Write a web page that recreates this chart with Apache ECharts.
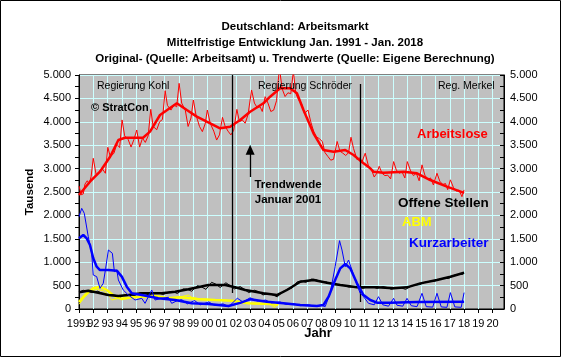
<!DOCTYPE html>
<html><head><meta charset="utf-8">
<script src="https://cdn.jsdelivr.net/npm/echarts@6/dist/echarts.min.js"></script>
<style>html,body{margin:0;padding:0;background:#fff}#c{width:563px;height:359px}</style>
</head><body><div id="c"></div>
<script>
// ---- data: [year, thousands] ----
const arbeitsloseOriginal = [
[1991.0,2630],[1991.15,2440],[1991.3,2460],[1991.42,2670],[1991.58,2740],[1991.72,2670],[1991.85,2830],
[1992.0,3220],[1992.2,2870],[1992.45,2940],[1992.6,3010],[1992.85,2900],
[1993.02,3455],[1993.2,3250],[1993.45,3330],[1993.65,3520],[1993.85,3450],
[1994.02,4040],[1994.2,3700],[1994.45,3620],[1994.65,3460],[1994.85,3620],
[1995.05,3825],[1995.25,3460],[1995.45,3650],[1995.65,3560],[1995.85,3700],
[1996.03,4266],[1996.2,3900],[1996.45,3830],[1996.65,4000],[1996.85,4050],
[1997.04,4665],[1997.2,4350],[1997.45,4250],[1997.65,4360],[1997.85,4320],
[1998.02,4822],[1998.2,4400],[1998.45,4250],[1998.65,3900],[1998.85,4080],
[1999.02,4466],[1999.2,4150],[1999.45,3900],[1999.65,3790],[1999.85,3960],
[2000.0,4252],[2000.2,3970],[2000.45,3800],[2000.65,3610],[2000.85,3720],
[2001.06,4095],[2001.25,3900],[2001.45,3800],[2001.65,3720],[2001.85,3820],
[2002.07,4266],[2002.25,4000],[2002.45,4040],[2002.65,3970],[2002.85,4150],
[2003.1,4680],[2003.3,4400],[2003.5,4300],[2003.7,4320],[2003.85,4220],
[2004.05,4537],[2004.25,4400],[2004.45,4220],[2004.65,4250],[2004.85,4450],
[2005.05,5150],[2005.25,4700],[2005.45,4540],[2005.65,4620],[2005.85,4600],
[2006.03,5080],[2006.2,4610],[2006.4,4470],[2006.6,4390],[2006.8,4180],
[2007.06,4250],[2007.25,4000],[2007.45,3800],[2007.65,3680],[2007.85,3640],
[2008.06,3580],[2008.25,3340],[2008.45,3260],[2008.65,3180],[2008.85,3200],
[2009.1,3580],[2009.3,3370],[2009.5,3330],[2009.7,3280],[2009.9,3340],
[2010.07,3670],[2010.25,3430],[2010.5,3190],[2010.7,3230],[2010.85,3150],
[2011.07,3330],[2011.3,3050],[2011.5,2980],[2011.7,2820],[2011.88,2900],
[2012.05,3050],[2012.25,2900],[2012.45,2850],[2012.65,2860],[2012.85,2780],
[2013.06,3150],[2013.25,2970],[2013.45,2900],[2013.65,2930],[2013.85,2800],
[2014.02,3150],[2014.25,2950],[2014.45,2850],[2014.65,2900],[2014.85,2740],
[2015.05,3080],[2015.25,2860],[2015.45,2770],[2015.65,2800],[2015.85,2650],
[2016.1,2900],[2016.3,2730],[2016.5,2660],[2016.7,2680],[2016.85,2550],
[2017.04,2760],[2017.25,2600],[2017.45,2520],[2017.65,2540],[2017.85,2400],
[2018.0,2545]];
const arbeitsloseTrend = [[1991.0,2436],[1991.77,2720],[1992.47,2934],[1993.18,3254],[1993.76,3611],[1994.23,3660],[1995.49,3660],[1995.98,3790],[1996.68,4145],[1997.86,4395],[1998.56,4252],[1999.26,4110],[1999.96,4002],[2000.89,3860],[2001.6,3895],[2002.3,4038],[2003.0,4216],[2003.93,4395],[2004.4,4537],[2005.1,4716],[2005.8,4716],[2006.28,4609],[2006.74,4252],[2007.44,3754],[2008.14,3397],[2008.85,3361],[2009.67,3397],[2010.25,3290],[2010.72,3170],[2011.42,3006],[2011.65,2934],[2012.35,2913],[2013.76,2934],[2014.7,2900],[2015.63,2756],[2016.8,2614],[2018.0,2480]];

const offeneOriginal = [[1991.0,360],[1991.3,400],[1991.6,380],[1991.9,350],[1992.3,380],[1992.6,340],[1992.9,300],[1993.3,310],[1993.6,290],[1993.9,260],[1994.3,310],[1994.6,300],[1994.9,290],[1995.3,350],[1995.6,330],[1995.9,300],[1996.3,350],[1996.6,340],[1996.9,310],[1997.3,360],[1997.6,370],[1997.9,330],[1998.3,430],[1998.6,420],[1998.9,380],[1999.3,500],[1999.6,470],[1999.9,420],[2000.3,570],[2000.6,530],[2000.9,460],[2001.3,560],[2001.6,500],[2001.9,430],[2002.3,480],[2002.6,420],[2002.9,350],[2003.3,400],[2003.6,370],[2003.9,300],[2004.3,330],[2004.6,300],[2004.9,260],[2005.3,370],[2005.6,420],[2005.9,440],[2006.3,580],[2006.6,600],[2006.9,570],[2007.3,640],[2007.6,630],[2007.9,590],[2008.3,580],[2008.6,560],[2008.9,520],[2009.3,510],[2009.6,500],[2009.9,470],[2010.3,470],[2010.6,470],[2010.9,440],[2011.3,480],[2011.6,470],[2011.9,440],[2012.3,480],[2012.6,460],[2012.9,420],[2013.3,460],[2013.6,450],[2013.9,420],[2014.3,490],[2014.6,510],[2014.9,520],[2015.3,580],[2015.6,590],[2015.9,590],[2016.3,640],[2016.6,660],[2016.9,650],[2017.3,720],[2017.6,740],[2017.9,740],[2018.0,770]];
const offeneTrend = [[1991.0,357],[1991.65,391],[1992.35,348],[1993.06,299],[1993.76,278],[1994.46,299],[1995.4,335],[1996.8,335],[1997.74,370],[1998.67,421],[2000.07,513],[2001.25,513],[2001.95,463],[2002.65,406],[2003.35,370],[2003.93,335],[2004.87,299],[2005.58,406],[2006.51,583],[2007.44,620],[2008.38,562],[2009.32,513],[2010.49,463],[2011.89,463],[2013.06,442],[2013.99,463],[2014.93,548],[2016.1,620],[2017.04,690],[2018.0,776]];

const abmOriginal = [[1991.0,100],[1991.4,250],[1991.77,370],[1992.24,420],[1992.7,390],[1993.06,300],[1993.3,195],[1993.6,210],[1994.0,265],[1994.3,220],[1994.7,250],[1995.4,265],[1995.8,250],[1996.3,300],[1996.8,250],[1997.3,240],[1997.8,255],[1998.2,265],[1998.67,300],[1998.9,250],[1999.5,215],[2000.0,210],[2000.5,190],[2001.0,195],[2001.7,175],[2002.4,156],[2002.9,120],[2003.4,110],[2003.9,105],[2004.4,120],[2004.6,50],[2004.75,36],[2004.9,110],[2005.0,90]];
const abmTrend = [[1991.0,150],[1991.42,299],[1992.0,442],[1992.47,477],[1992.94,406],[1993.53,263],[1994.0,214],[1994.7,250],[1995.4,263],[1996.33,278],[1997.27,228],[1998.2,250],[1999.37,207],[2000.54,192],[2001.72,178],[2002.88,121],[2004.4,107],[2004.96,90]];

const kurzOriginal = [[1991.0,1972],[1991.19,2151],[1991.37,2045],[1991.65,1545],[1991.89,1190],[1992.0,726],[1992.24,691],[1992.47,442],[1992.7,548],[1992.87,869],[1993.06,1261],[1993.18,1297],[1993.34,1190],[1993.48,797],[1993.65,833],[1993.76,620],[1994.1,406],[1994.46,299],[1994.93,192],[1995.4,228],[1995.63,121],[1996.1,406],[1996.33,192],[1996.8,230],[1997.27,250],[1997.5,121],[1997.9,180],[1998.2,200],[1998.6,110],[1999.1,180],[1999.5,90],[2000.1,150],[2000.5,80],[2001.1,110],[2001.5,50],[2002.1,230],[2002.5,150],[2003.0,240],[2003.5,170],[2004.1,190],[2004.5,130],[2005.1,150],[2005.5,100],[2006.1,110],[2006.5,70],[2007.1,90],[2007.5,55],[2008.0,80],[2008.26,50],[2008.61,335],[2008.96,904],[2009.27,1460],[2009.44,1261],[2009.67,904],[2009.9,1047],[2010.02,1011],[2010.25,726],[2010.49,513],[2010.72,335],[2010.95,263],[2011.3,121],[2011.7,90],[2012.0,263],[2012.3,90],[2012.7,60],[2013.06,228],[2013.3,80],[2013.7,60],[2014.0,228],[2014.3,70],[2014.7,50],[2015.05,335],[2015.35,50],[2015.8,40],[2016.1,335],[2016.4,45],[2016.8,36],[2017.04,350],[2017.35,45],[2017.8,36],[2018.0,350]];
const kurzTrend = [[1991.0,1510],[1991.3,1581],[1991.54,1510],[1991.77,1368],[1992.0,1083],[1992.24,904],[1992.47,833],[1993.06,833],[1993.65,819],[1994.0,691],[1994.35,477],[1994.7,335],[1995.4,299],[1996.56,228],[1997.74,192],[1998.91,121],[2000.07,107],[2001.48,64],[2002.3,130],[2003.0,207],[2004.17,156],[2005.34,121],[2006.51,85],[2007.68,64],[2008.14,85],[2008.5,263],[2008.96,620],[2009.32,869],[2009.67,962],[2010.02,869],[2010.49,548],[2010.95,299],[2011.42,192],[2011.89,135],[2012.82,135],[2014.7,150],[2018.0,156]];

const yearMin = 1991, yearMax = 2020.8;
const valueMin = 0, valueMax = 5000, valueStep = 500;

// ---- chart ----
const FONT = '"Liberation Sans", Arial, sans-serif';
const GRID = '#ccffff';
const chart = echarts.init(document.getElementById('c'), null, {renderer: 'canvas'});
const fmtY = v => v >= 1000 ? Math.floor(v / 1000) + '.' + String(v % 1000).padStart(3, '0') : String(v);
const isInt = v => Math.abs(v - Math.round(v)) < 1e-6;
// main axis: two-digit years (first year shown by the overlay axis)
const fmtX = v => (!isInt(v) || Math.round(v) === yearMin) ? '' : String(Math.round(v)).slice(2);
const fmtXFirst = v => (isInt(v) && Math.round(v) === yearMin) ? String(yearMin) : '';
function line(data, color, width, z) {
  return {type: 'line', data, showSymbol: false, symbol: 'none', silent: true, z,
    lineStyle: {color, width}, itemStyle: {color}, clip: true};
}
const txt = (text, x, y, size, weight, color, align, extra) => Object.assign({
  type: 'text', x, y, silent: true, z: 100,
  style: {text, fontFamily: FONT, fontSize: size, fontWeight: weight, fill: color,
    align: align, textAlign: align, verticalAlign: 'middle', textVerticalAlign: 'middle'}
}, extra || {});

const series = [
  line(arbeitsloseOriginal, '#ff0000', 1, 2),
  line(arbeitsloseTrend, '#ff0000', 2.5, 3),
  line(abmOriginal, '#ffff00', 1, 4),
  line(abmTrend, '#ffff00', 2.5, 5),
  line(offeneOriginal, '#000000', 1, 6),
  line(offeneTrend, '#000000', 2.5, 7),
  line(kurzOriginal, '#0000ff', 1, 8),
  line(kurzTrend, '#0000ff', 2.5, 9)
];
series[1].markLine = {
  silent: true, symbol: ['none', 'none'], label: {show: false}, animation: false,
  lineStyle: {color: '#000', width: 1.3, type: 'solid'},
  data: [
    [{coord: [2001.72, 5000]}, {coord: [2001.72, 342]}],
    [{coord: [2010.72, 4808]}, {coord: [2010.72, 150]}]
  ]
};
series[5].markLine = {
  silent: true, symbol: ['none', 'triangle'], symbolSize: [9, 10], label: {show: false}, animation: false,
  lineStyle: {color: '#000', width: 1.3, type: 'solid'}, itemStyle: {color: '#000'},
  data: [[{coord: [2003.0, 2820]}, {coord: [2003.0, 3405]}]]
};

const xLabelBase = {color: '#000', fontFamily: FONT, fontSize: 11, margin: 9, hideOverlap: false};
chart.setOption({
  animation: false,
  backgroundColor: '#ffffff',
  grid: {left: 79, right: 59, top: 75, bottom: 50, show: true, backgroundColor: '#c0c0c0', borderColor: '#000', borderWidth: 1},
  xAxis: [
    {type: 'value', min: yearMin, max: yearMax, interval: 1, position: 'bottom',
      axisLine: {show: true, lineStyle: {color: '#000', width: 1}},
      axisTick: {show: true, length: 4, lineStyle: {color: '#000'}},
      axisLabel: Object.assign({formatter: fmtX, showMinLabel: true, showMaxLabel: false}, xLabelBase),
      splitLine: {show: true, lineStyle: {color: GRID, width: 1}}},
    {type: 'value', min: yearMin, max: yearMax, interval: 1, position: 'bottom', offset: 0,
      axisLine: {show: false}, axisTick: {show: false}, splitLine: {show: false},
      axisLabel: Object.assign({formatter: fmtXFirst, showMinLabel: true, showMaxLabel: false}, xLabelBase)}
  ],
  yAxis: [
    {type: 'value', min: valueMin, max: valueMax, interval: valueStep, position: 'left',
      axisLine: {show: true, lineStyle: {color: '#000', width: 1}},
      axisTick: {show: true, length: 4, lineStyle: {color: '#000'}},
      minorTick: {show: true, splitNumber: 2, length: 4, lineStyle: {color: '#000'}},
      axisLabel: {formatter: fmtY, color: '#000', fontFamily: FONT, fontSize: 11, margin: 8, showMinLabel: true, showMaxLabel: true},
      splitLine: {show: true, lineStyle: {color: GRID, width: 1}}},
    {type: 'value', min: valueMin, max: valueMax, interval: valueStep, position: 'right',
      axisLine: {show: true, lineStyle: {color: '#000', width: 1}},
      axisTick: {show: true, inside: true, length: 4, lineStyle: {color: '#000'}},
      minorTick: {show: true, splitNumber: 2, length: 4, lineStyle: {color: '#000'}},
      axisLabel: {formatter: fmtY, color: '#000', fontFamily: FONT, fontSize: 11, margin: 6, showMinLabel: true, showMaxLabel: true},
      splitLine: {show: false}}
  ],
  series,
  graphic: [
    {type: 'rect', silent: true, z: 100, shape: {x: 0.5, y: 0.5, width: 560, height: 356}, style: {fill: 'none', stroke: '#000', lineWidth: 1}},
    txt('Deutschland: Arbeitsmarkt', 295, 27, 11.5, 'bold', '#000', 'center'),
    txt('Mittelfristige Entwicklung Jan. 1991 - Jan. 2018', 295, 43, 11.5, 'bold', '#000', 'center'),
    txt('Original- (Quelle: Arbeitsamt) u. Trendwerte (Quelle: Eigene Berechnung)', 295, 58.5, 11.5, 'bold', '#000', 'center'),
    txt('Regierung Kohl', 97, 86, 10.5, 'normal', '#000', 'left'),
    txt('© StratCon', 91, 108, 11, 'bold', '#000', 'left'),
    txt('Regierung Schröder', 258, 86, 10.5, 'normal', '#000', 'left'),
    txt('Reg. Merkel', 438, 86, 10.5, 'normal', '#000', 'left'),
    txt('Arbeitslose', 417, 134, 13, 'bold', '#ff0000', 'left'),
    txt('Trendwende', 288, 185, 11.5, 'bold', '#000', 'center'),
    txt('Januar 2001', 288, 200, 11.5, 'bold', '#000', 'center'),
    txt('Offene Stellen', 398, 203, 13.5, 'bold', '#000', 'left'),
    txt('ABM', 402, 222, 13, 'bold', '#ffff00', 'left'),
    txt('Kurzarbeiter', 409, 243, 13.5, 'bold', '#0000ff', 'left'),
    txt('Tausend', 30, 192, 11.5, 'bold', '#000', 'center', {rotation: Math.PI / 2}),
    txt('Jahr', 318, 333, 13, 'bold', '#000', 'center')
  ]
});
</script></body></html>
